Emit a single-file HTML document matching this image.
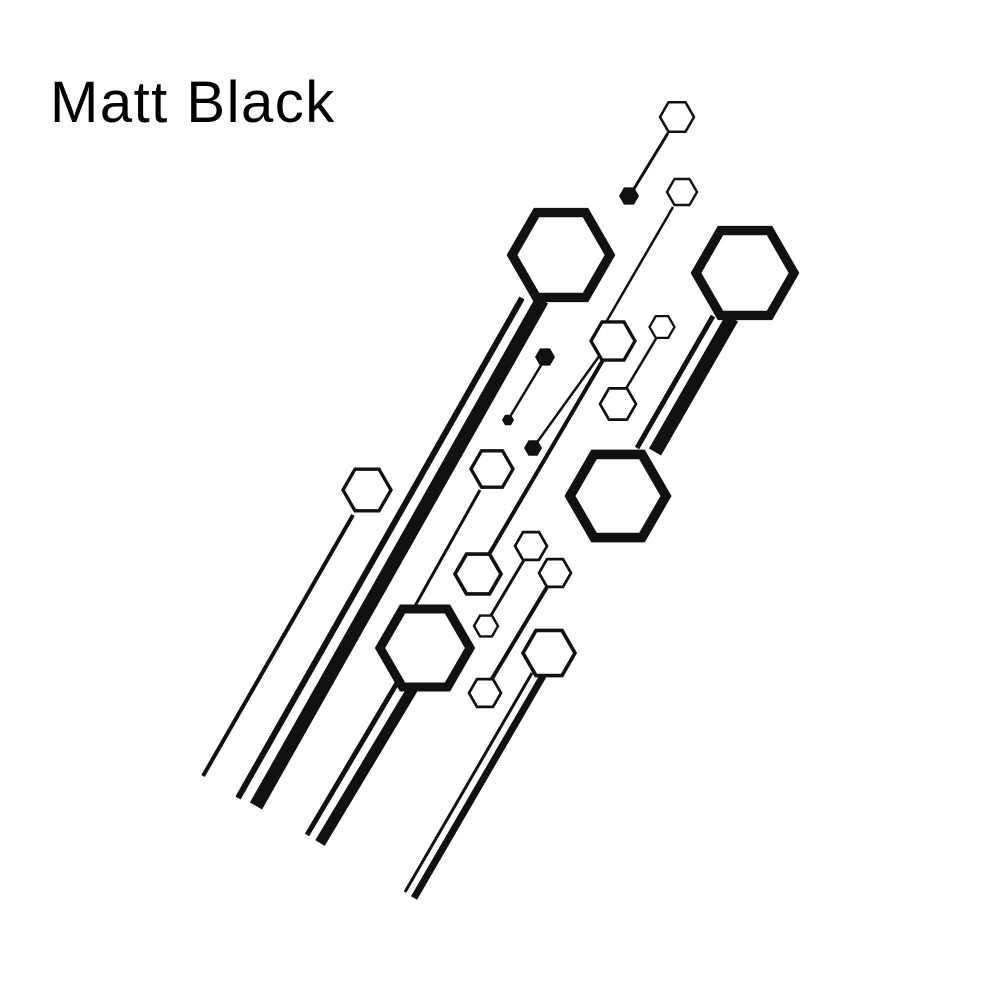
<!DOCTYPE html>
<html><head><meta charset="utf-8"><style>
html,body{margin:0;padding:0;background:#fff;width:1000px;height:1000px;overflow:hidden}
</style></head><body>
<svg width="1000" height="1000" viewBox="0 0 1000 1000" xmlns="http://www.w3.org/2000/svg">
<rect width="1000" height="1000" fill="#fff"/>
<text x="50" y="122" font-family="Liberation Sans, sans-serif" font-size="58" letter-spacing="1.5" fill="#000">Matt Black</text>
<g stroke="#111" stroke-linecap="butt" fill="none">
 <line x1="353" y1="515" x2="203" y2="776" stroke-width="4"/>
 <line x1="522" y1="298" x2="238" y2="798" stroke-width="6"/>
 <line x1="542" y1="300" x2="256" y2="806" stroke-width="14"/>
 <line x1="480" y1="490" x2="415" y2="606" stroke-width="3"/>
 <line x1="603" y1="360" x2="488" y2="556" stroke-width="4"/>
 <line x1="673" y1="207" x2="605" y2="324" stroke-width="2.5"/>
 <line x1="668" y1="133" x2="632" y2="192" stroke-width="3"/>
 <line x1="543" y1="362" x2="508" y2="420" stroke-width="2.5"/>
 <line x1="533" y1="448" x2="600" y2="355" stroke-width="2.5"/>
 <line x1="657" y1="337" x2="624" y2="392" stroke-width="2.5"/>
 <line x1="713" y1="316" x2="637" y2="448" stroke-width="5"/>
 <line x1="732" y1="318" x2="655" y2="452" stroke-width="14"/>
 <line x1="397" y1="683" x2="307" y2="835" stroke-width="5"/>
 <line x1="413" y1="688" x2="320" y2="843" stroke-width="11"/>
 <line x1="524" y1="560" x2="490" y2="617" stroke-width="3"/>
 <line x1="547" y1="587" x2="490" y2="682" stroke-width="4"/>
 <line x1="532" y1="673" x2="405" y2="892" stroke-width="3"/>
 <line x1="543" y1="676" x2="414" y2="898" stroke-width="7"/>
</g>
<defs>
 <polygon id="h" points="-1,0 -0.5,-0.866 0.5,-0.866 1,0 0.5,0.866 -0.5,0.866"/>
</defs>
<g fill="#fff" stroke="#111">
 <use href="#h" transform="translate(677,117) scale(17)" stroke-width="0.15"/>
 <use href="#h" transform="translate(682,192) scale(15)" stroke-width="0.16"/>
 <use href="#h" transform="translate(561,255) scale(49)" stroke-width="0.19"/>
 <use href="#h" transform="translate(745,273) scale(49)" stroke-width="0.19"/>
 <use href="#h" transform="translate(613,341) scale(22)" stroke-width="0.15"/>
 <use href="#h" transform="translate(662,327) scale(12.5)" stroke-width="0.18"/>
 <use href="#h" transform="translate(618,404) scale(18)" stroke-width="0.15"/>
 <use href="#h" transform="translate(618,496) scale(48)" stroke-width="0.2"/>
 <use href="#h" transform="translate(367,490) scale(24)" stroke-width="0.14"/>
 <use href="#h" transform="translate(492,469) scale(21)" stroke-width="0.16"/>
 <use href="#h" transform="translate(478,574) scale(23)" stroke-width="0.16"/>
 <use href="#h" transform="translate(531,546) scale(16)" stroke-width="0.17"/>
 <use href="#h" transform="translate(555,573) scale(16)" stroke-width="0.17"/>
 <use href="#h" transform="translate(486,626) scale(12)" stroke-width="0.2"/>
 <use href="#h" transform="translate(425,648) scale(45)" stroke-width="0.2"/>
 <use href="#h" transform="translate(549,653) scale(26)" stroke-width="0.14"/>
 <use href="#h" transform="translate(485,693) scale(16)" stroke-width="0.17"/>
</g>
<g fill="#111">
 <use href="#h" transform="translate(629,196) scale(10)"/>
 <use href="#h" transform="translate(545,357) scale(10)"/>
 <use href="#h" transform="translate(508,420) scale(6)"/>
 <use href="#h" transform="translate(533,448) scale(9)"/>
</g>
</svg>
</body></html>
